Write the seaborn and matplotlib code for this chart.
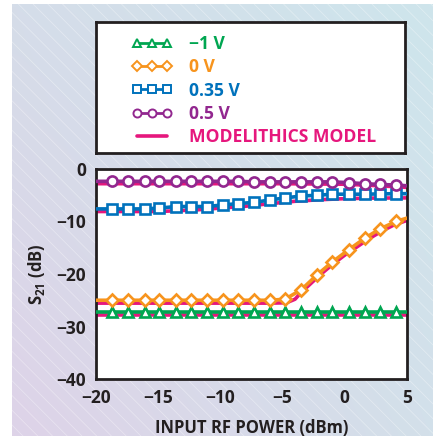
import numpy as np
import pandas as pd
import matplotlib
matplotlib.use("Agg")
import matplotlib.pyplot as plt
import seaborn as sns
from matplotlib.lines import Line2D
from matplotlib.legend_handler import HandlerLine2D

# ---------------- data ----------------
meas_x = [-20.0, -18.7, -17.4, -16.1, -14.9, -13.6, -12.4, -11.1, -9.8, -8.6, -7.3,
          -6.0, -4.8, -3.5, -2.2, -1.0, 0.3, 1.6, 2.8, 4.1, 5.0]
s21_m1v = [-27.3, -27.3, -27.3, -27.3, -27.3, -27.3, -27.3, -27.3, -27.3, -27.3, -27.3,
           -27.3, -27.3, -27.3, -27.3, -27.3, -27.3, -27.3, -27.3, -27.3, -27.3]
s21_0v = [-25.0, -25.0, -25.0, -25.0, -25.0, -25.0, -25.0, -25.0, -25.0, -25.0, -25.0,
          -25.0, -24.8, -23.0, -20.1, -17.7, -15.4, -13.2, -11.45, -10.0, -9.35]
s21_035v = [-7.6, -7.6, -7.6, -7.6, -7.45, -7.15, -7.15, -7.15, -6.85, -6.6, -6.35,
            -5.9, -5.5, -5.15, -5.0, -4.8, -4.8, -4.8, -4.75, -4.7, -4.7]
s21_05v = [-2.35, -2.35, -2.35, -2.35, -2.35, -2.35, -2.35, -2.35, -2.35, -2.35, -2.45,
           -2.45, -2.45, -2.45, -2.45, -2.45, -2.6, -2.8, -2.95, -3.05, -3.2]

model_x_m1v = [-20.0, 5.0]
model_m1v = [-27.8, -27.8]
model_x_0v = [-20.0, -6.0, -5.0, -4.5, -4.0, -3.5, -3.0, -2.5, -2.0, -1.5, -1.0,
              -0.5, 0.0, 1.0, 2.0, 3.0, 4.0, 5.0]
model_0v = [-25.55, -25.55, -25.5, -25.3, -24.8, -23.5, -22.4, -21.3, -20.2, -19.2, -18.2,
            -17.3, -16.4, -14.8, -13.2, -11.8, -10.6, -9.8]
model_x_035v = [-20.0, -15.0, -12.0, -10.0, -8.0, -6.0, -4.0, -2.0, 0.0, 2.0, 5.0]
model_035v = [-8.1, -8.1, -7.8, -7.45, -7.1, -6.6, -6.15, -5.85, -5.65, -5.55, -5.5]
model_x_05v = [-20.0, -5.0, 0.0, 2.0, 5.0]
model_05v = [-2.8, -2.8, -2.9, -3.1, -3.5]

series_labels = ["\u22121 V", "0 V", "0.35 V", "0.5 V", "MODELITHICS MODEL"]
x_ticks = [-20, -15, -10, -5, 0, 5]
y_ticks = [0, -10, -20, -30, -40]

# ---------------- style ----------------
GREEN = "#00a651"
ORANGE = "#f7941d"
BLUE = "#0072bc"
PURPLE = "#92278f"
PINK = "#e6177d"
DARK = "#231f20"

sns.set_style("white")
FONT = "Open Sans"
plt.rcParams["font.family"] = [FONT, "DejaVu Sans"]
plt.rcParams["font.weight"] = "bold"
plt.rcParams["mathtext.fontset"] = "custom"
plt.rcParams["mathtext.bf"] = f"{FONT}:bold"
plt.rcParams["mathtext.rm"] = f"{FONT}:bold"
plt.rcParams["mathtext.it"] = f"{FONT}:bold:italic"

W, H = 433, 436
fig = plt.figure(figsize=(W / 100, H / 100), dpi=100)

# background gradient panel
bg = fig.add_axes([12 / W, 0, 421 / W, 432 / H], zorder=-10)
ny, nx = 60, 60
u = np.linspace(0, 1, nx)[None, :]
v = np.linspace(0, 1, ny)[:, None]
tl = np.array([213, 221, 233]) / 255
tr = np.array([206, 229, 236]) / 255
bl = np.array([222, 211, 232]) / 255
br = np.array([211, 224, 234]) / 255
img = ((1 - u)[..., None] * ((1 - v)[..., None] * tl + v[..., None] * bl)
       + u[..., None] * ((1 - v)[..., None] * tr + v[..., None] * br))
bg.imshow(img, extent=[0, 1, 0, 1], aspect="auto", origin="upper", interpolation="bilinear")
for k in np.arange(-1.0, 2.2, 0.035):
    bg.plot([k, k + 1.0 * 432 / 421], [1, 0], color="white", lw=0.6, alpha=0.35)
bg.set_xlim(0, 1)
bg.set_ylim(0, 1)
bg.axis("off")

# main axes
ax = fig.add_axes([96 / W, 1 - 379 / H, 311 / W, 210 / H])
ax.set_facecolor("white")

lw_data = 2.6
lw_model = 2.6
ms = 7.3
mew = 1.9

def model(xs, ys):
    sns.lineplot(x=xs, y=ys, ax=ax, color=PINK, lw=lw_model, zorder=2, sort=False)

model(model_x_m1v, model_m1v)
model(model_x_0v, model_0v)
model(model_x_035v, model_035v)
model(model_x_05v, model_05v)

inner = slice(1, len(meas_x) - 1)

def meas(ys, color, marker, msz):
    sns.lineplot(x=meas_x, y=ys, ax=ax, color=color, lw=lw_data, zorder=3, sort=False,
                 marker=marker, markevery=inner, markersize=msz,
                 markerfacecolor="white", markeredgecolor=color, markeredgewidth=mew)

meas(s21_m1v, GREEN, "^", ms)
meas(s21_0v, ORANGE, "D", ms * 0.85)
meas(s21_035v, BLUE, "s", ms * 0.95)
meas(s21_05v, PURPLE, "o", ms)

ax.set_xlim(-20, 5)
ax.set_ylim(-40, 0)
ax.set_xticks(x_ticks)
ax.set_yticks(y_ticks)
ax.set_xticklabels([f"{t}".replace("-", "\u2212") for t in x_ticks])
ax.set_yticklabels([f"{t}".replace("-", "\u2212") for t in y_ticks])
ax.tick_params(direction="in", length=6, width=1.5, color=DARK, labelsize=12.5,
               labelcolor=DARK, pad=7)
for s in ax.spines.values():
    s.set_color(DARK)
    s.set_linewidth(2.0)
for t in ax.get_xticklabels() + ax.get_yticklabels():
    t.set_fontweight("bold")

ax.set_xlabel("INPUT RF POWER (dBm)", fontsize=12, fontweight="bold", color=DARK, labelpad=9)
ax.set_ylabel(r"$\mathbf{S}_{\mathbf{21}}$ (dB)", fontsize=12, fontweight="bold",
              color=DARK, labelpad=7)

# legend box
lax = fig.add_axes([96 / W, 1 - 153 / H, 309 / W, 131 / H])
lax.set_facecolor("white")
lax.set_xticks([])
lax.set_yticks([])
for s in lax.spines.values():
    s.set_color(DARK)
    s.set_linewidth(2.0)

handles = [
    Line2D([], [], color=GREEN, lw=2.0, marker="^", markersize=6.0,
           markerfacecolor="white", markeredgecolor=GREEN, markeredgewidth=1.4),
    Line2D([], [], color=ORANGE, lw=2.0, marker="D", markersize=4.8,
           markerfacecolor="white", markeredgecolor=ORANGE, markeredgewidth=1.4),
    Line2D([], [], color=BLUE, lw=2.0, marker="s", markersize=5.4,
           markerfacecolor="white", markeredgecolor=BLUE, markeredgewidth=1.4),
    Line2D([], [], color=PURPLE, lw=2.0, marker="o", markersize=5.8,
           markerfacecolor="white", markeredgecolor=PURPLE, markeredgewidth=1.4),
    Line2D([], [], color=PINK, lw=2.6),
]
leg = lax.legend(handles, series_labels, loc="upper left",
                 bbox_to_anchor=(127 / W, 1 - 35 / H), bbox_transform=fig.transFigure,
                 frameon=False, numpoints=3, handlelength=2.9, handletextpad=0.65,
                 labelspacing=0.3, borderpad=0, borderaxespad=0,
                 prop={"family": [FONT, "DejaVu Sans"], "weight": "bold", "size": 12.6},
                 labelcolor=[GREEN, ORANGE, BLUE, PURPLE, PINK],
                 handler_map={Line2D: HandlerLine2D(marker_pad=0.6)})

fig.savefig("out.png", dpi=100)
